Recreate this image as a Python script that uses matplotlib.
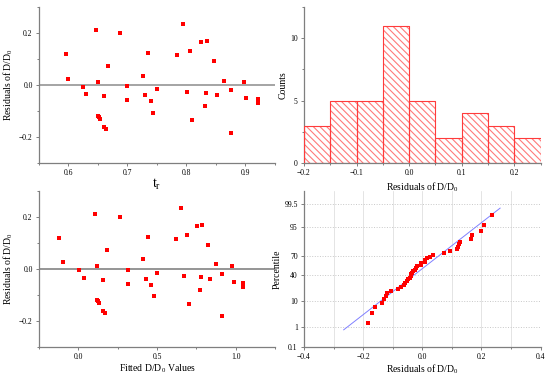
import numpy as np
import matplotlib
matplotlib.use("Agg")
import matplotlib.pyplot as plt
from matplotlib.ticker import MultipleLocator
from statistics import NormalDist

plt.rcParams['font.family'] = ['Liberation Serif', 'DejaVu Serif']
plt.rcParams['mathtext.fontset'] = 'stix'
plt.rcParams['hatch.linewidth'] = 0.8

# residuals of D/D0 together with t_r and fitted D/D0 values
t_r = [0.595, 0.600, 0.624, 0.630, 0.647, 0.650, 0.650, 0.652, 0.654, 0.661,
       0.663, 0.661, 0.667, 0.687, 0.700, 0.700, 0.726, 0.730, 0.734, 0.740,
       0.744, 0.750, 0.784, 0.794, 0.801, 0.806, 0.810, 0.825, 0.831, 0.834,
       0.833, 0.847, 0.851, 0.864, 0.876, 0.876, 0.897, 0.901, 0.921, 0.921]
fitted = [-0.121, -0.098, 0.004, 0.034, 0.103, 0.117, 0.117, 0.122, 0.129, 0.156,
          0.169, 0.156, 0.184, 0.264, 0.315, 0.315, 0.411, 0.428, 0.440, 0.464,
          0.481, 0.502, 0.619, 0.651, 0.674, 0.689, 0.704, 0.757, 0.774, 0.785,
          0.780, 0.827, 0.835, 0.878, 0.914, 0.914, 0.978, 0.988, 1.048, 1.048]
residuals = [0.119, 0.025, -0.006, -0.035, 0.210, 0.010, -0.119, -0.123, -0.131, -0.161,
             -0.171, -0.042, 0.073, 0.199, -0.003, -0.058, 0.036, -0.038, 0.123, -0.062,
             -0.106, -0.017, 0.116, 0.234, -0.026, 0.129, -0.135, 0.166, -0.082, 0.169,
             -0.031, 0.092, -0.039, 0.017, -0.021, -0.183, 0.010, -0.049, -0.053, -0.071]
bin_edges = [-0.2, -0.15, -0.1, -0.05, 0.0, 0.05, 0.1, 0.15, 0.2, 0.25]
pct_ticks = [0.1, 1, 10, 40, 70, 95, 99.5]
pct_labels = ['0.1', '1', '10', '40', '70', '95', '99.5']

res_label = r'Residuals of D/D$\mathregular{_0}$'
axis_gray = '#7f7f7f'
red = '#ff0000'


def style_axes(ax):
    ax.patch.set_alpha(0)
    for s in ['top', 'right']:
        ax.spines[s].set_visible(False)
    for s in ['left', 'bottom']:
        ax.spines[s].set_color(axis_gray)
        ax.spines[s].set_linewidth(0.9)
    ax.tick_params(which='both', direction='out', color=axis_gray, labelsize=5.5,
                   width=0.7, pad=2)
    ax.tick_params(which='major', length=2.5)
    ax.tick_params(which='minor', length=1.5)


fig = plt.figure(figsize=(5.5, 3.77), dpi=100)
ax1 = fig.add_axes([0.0709, 0.5676, 0.4291, 0.4138])
ax2 = fig.add_axes([0.5527, 0.5676, 0.4303, 0.4138])
ax3 = fig.add_axes([0.0709, 0.0804, 0.4291, 0.4130])
ax4 = fig.add_axes([0.5527, 0.0804, 0.4303, 0.4130])

# residuals vs t_r
style_axes(ax1)
ax1.axhline(0, color='#8c8c8c', lw=1.1, zorder=1)
ax1.plot(t_r, residuals, 's', color=red, ms=3, mew=0, zorder=3)
ax1.set_xlim(0.55, 0.95)
ax1.set_ylim(-0.3, 0.3)
ax1.xaxis.set_minor_locator(MultipleLocator(0.05))
ax1.yaxis.set_minor_locator(MultipleLocator(0.1))
ax1.set_xticks([0.6, 0.7, 0.8, 0.9])
ax1.set_yticks([-0.2, 0.0, 0.2])
ax1.set_yticklabels(['\u22120.2', '0.0', '0.2'])
ax1.set_xlabel(r'$\mathregular{t_r}$', fontsize=10, labelpad=0)
ax1.set_ylabel(res_label, fontsize=7, labelpad=3)

# histogram: hatched fill, then solid outline
style_axes(ax2)
ax2.hist(residuals, bins=bin_edges, facecolor='none', edgecolor='#ff7a7a',
         hatch='\\\\\\\\\\', lw=0.5, zorder=2)
ax2.hist(residuals, bins=bin_edges, facecolor='none', edgecolor='#ff3b3b',
         lw=0.8, zorder=3)
ax2.set_xlim(-0.2, 0.25)
ax2.set_ylim(0, 12.5)
ax2.set_xticks([-0.2, -0.1, 0.0, 0.1, 0.2])
ax2.set_xticklabels(['\u22120.2', '\u22120.1', '0.0', '0.1', '0.2'])
ax2.xaxis.set_minor_locator(MultipleLocator(0.05))
ax2.set_yticks([0, 5, 10])
ax2.yaxis.set_minor_locator(MultipleLocator(2.5))
ax2.set_xlabel(res_label, fontsize=7, labelpad=2)
ax2.set_ylabel('Counts', fontsize=7, labelpad=2)

# residuals vs fitted
style_axes(ax3)
ax3.axhline(0, color='#8c8c8c', lw=1.3, zorder=1)
ax3.plot(fitted, residuals, 's', color=red, ms=3, mew=0, zorder=3)
ax3.set_xlim(-0.25, 1.25)
ax3.set_ylim(-0.3, 0.3)
ax3.set_xticks([0.0, 0.5, 1.0])
ax3.xaxis.set_minor_locator(MultipleLocator(0.25))
ax3.set_yticks([-0.2, 0.0, 0.2])
ax3.set_yticklabels(['\u22120.2', '0.0', '0.2'])
ax3.yaxis.set_minor_locator(MultipleLocator(0.1))
ax3.set_xlabel(r'Fitted D/D$\mathregular{_0}$ Values', fontsize=7, labelpad=1)
ax3.set_ylabel(res_label, fontsize=7, labelpad=3)

# normal probability plot (Blom positions)
nd = NormalDist()
res_sorted = np.sort(residuals)
n = len(res_sorted)
z_pts = [nd.inv_cdf((i + 1 - 0.375) / (n + 0.25)) for i in range(n)]
mu = np.mean(residuals)
sd = np.std(residuals, ddof=1)
z_line = np.array([-2.42, 2.41])

style_axes(ax4)
ax4.grid(True, which='major', axis='y', color='#c8c8c8', ls=':', lw=0.7)
ax4.grid(True, which='both', axis='x', color='#d9d9d9', ls='-', lw=0.5)
ax4.plot(mu + z_line * sd, z_line, color='#8080ff', lw=0.7, zorder=2)
ax4.plot(res_sorted, z_pts, 's', color=red, ms=3, mew=0, zorder=3)
ax4.set_xlim(-0.4, 0.4)
ax4.set_ylim(nd.inv_cdf(0.001), nd.inv_cdf(0.999))
ax4.set_xticks([-0.4, -0.2, 0.0, 0.2, 0.4])
ax4.set_xticklabels(['\u22120.4', '\u22120.2', '0.0', '0.2', '0.4'])
ax4.xaxis.set_minor_locator(MultipleLocator(0.1))
ax4.set_yticks([nd.inv_cdf(p / 100) for p in pct_ticks])
ax4.set_yticklabels(pct_labels)
ax4.set_xlabel(res_label, fontsize=7, labelpad=1)
ax4.set_ylabel('Percentile', fontsize=7, labelpad=2)
ax4.set_axisbelow(True)

fig.savefig('out.png', dpi=100)
